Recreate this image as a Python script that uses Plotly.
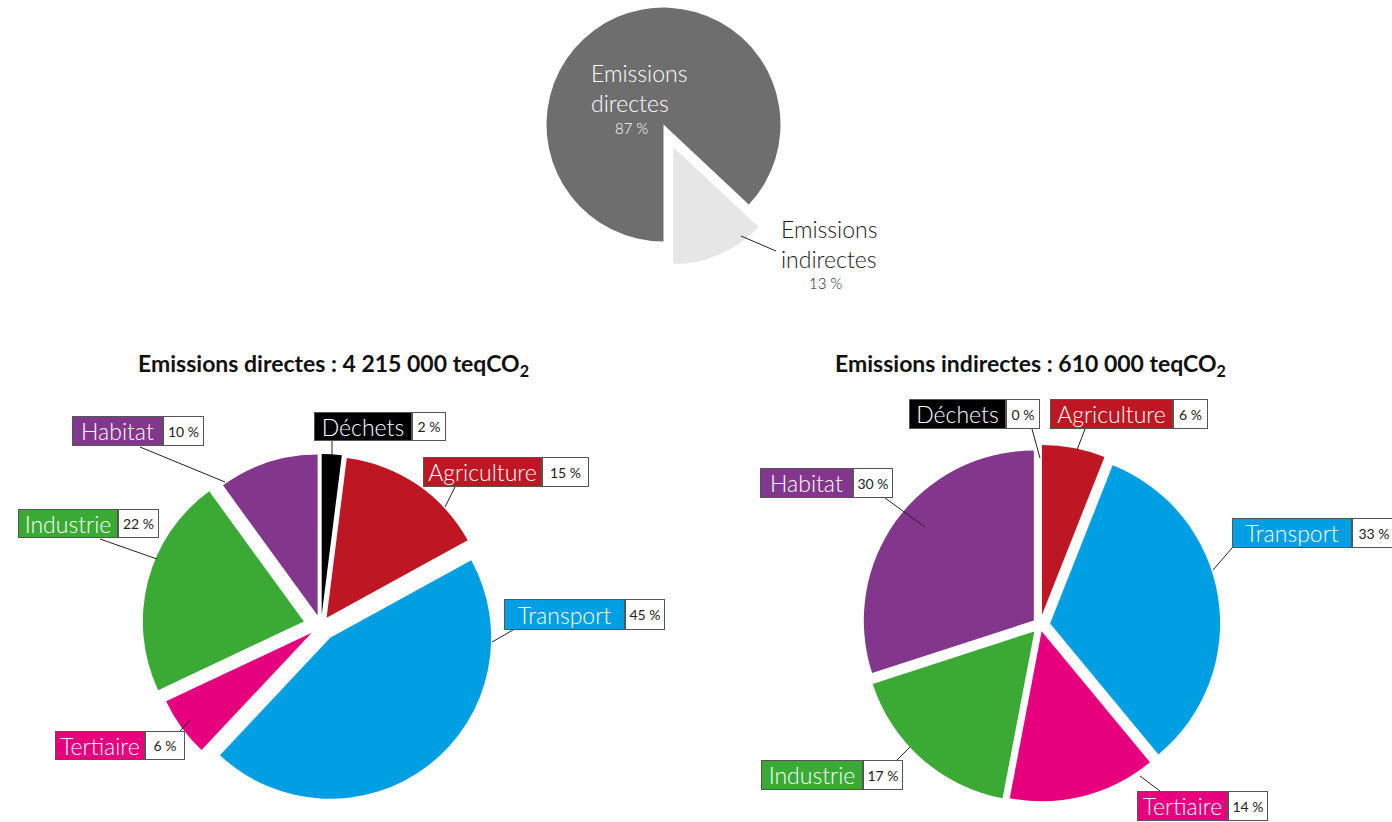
import plotly.graph_objects as go

W, H = 1392, 822

# ---------------- data ----------------
overview_labels = ["Emissions directes", "Emissions indirectes"]
overview_values = [87, 13]
overview_colors = ["#6e6e6e", "#e6e6e6"]

sectors = ["Déchets", "Agriculture", "Transport", "Tertiaire", "Industrie", "Habitat"]
sector_colors = ["#000000", "#be1622", "#009fe3", "#e6007e", "#3aaa35", "#82368c"]
direct_pct = [2, 15, 45, 6, 22, 10]
indirect_pct = [0, 6, 33, 14, 17, 30]
direct_total = "4 215 000"
indirect_total = "610 000"

FONT = "Lato"


def fx(x):
    return x / W


def fy(y):
    return 1 - y / H


def dom(cx, cy, half):
    return dict(x=[fx(cx - half), fx(cx + half)], y=[fy(cy + half), fy(cy - half)])


fig = go.Figure()

# ---- top overview pie (two layered traces, second one offset = "pulled" slice) ----
fig.add_trace(go.Pie(
    labels=overview_labels, values=overview_values, sort=False,
    direction="clockwise", rotation=180,
    marker=dict(colors=[overview_colors[0], "rgba(0,0,0,0)"], line=dict(width=0)),
    textinfo="none", hoverinfo="skip", showlegend=False,
    domain=dom(663.5, 124.5, 117),
))
fig.add_trace(go.Pie(
    labels=overview_labels, values=overview_values, sort=False,
    direction="clockwise", rotation=180,
    marker=dict(colors=["rgba(0,0,0,0)", overview_colors[1]], line=dict(width=0)),
    textinfo="none", hoverinfo="skip", showlegend=False,
    domain=dom(673.2, 147.0, 117),
))

# ---- bottom left: direct emissions ----
pull_left = [0.068, 0.062, 0.093, 0.071, 0.11, 0.068]
fig.add_trace(go.Pie(
    labels=sectors, values=direct_pct, sort=False,
    direction="clockwise", rotation=0, pull=pull_left,
    marker=dict(colors=sector_colors, line=dict(width=0)),
    textinfo="none", hoverinfo="skip", showlegend=False,
    domain=dom(321, 626, 161 * (1 + max(pull_left))),
))

# ---- bottom right: indirect emissions ----
pull_right = [0.0, 0.06, 0.06, 0.038, 0.05, 0.045]
fig.add_trace(go.Pie(
    labels=sectors, values=indirect_pct, sort=False,
    direction="clockwise", rotation=0, pull=pull_right,
    marker=dict(colors=sector_colors, line=dict(width=0)),
    textinfo="none", hoverinfo="skip", showlegend=False,
    domain=dom(1040, 625, 170 * (1 + max(pull_right))),
))

annotations = []
shapes = []


def text(x, y, s, size, color, xanchor="left", bold=False, weight=None):
    annotations.append(dict(
        x=fx(x), y=fy(y), xref="paper", yref="paper", text=s, showarrow=False,
        xanchor=xanchor, yanchor="middle", align="left",
        font=dict(family=FONT, size=size, color=color,
                  weight=(700 if bold else (weight or 400))),
    ))


def line(x0, y0, x1, y1):
    shapes.append(dict(type="line", xref="paper", yref="paper",
                       x0=fx(x0), y0=fy(y0), x1=fx(x1), y1=fy(y1),
                       line=dict(color="#222222", width=1)))


# top labels
text(589, 88, "<br>".join(overview_labels[0].split()), 23, "white", weight=300)
text(631, 128, f"{overview_values[0]} %", 15, "white", xanchor="center", weight=300)
text(779, 244, "<br>".join(overview_labels[1].split()), 23, "#1a1a1a", weight=300)
text(825, 283, f"{overview_values[1]} %", 15, "#1a1a1a", xanchor="center", weight=300)
line(741, 236, 776, 251)

# titles
text(333, 365, f"Emissions directes : {direct_total} teqCO<sub>2</sub>", 23, "#111111",
     xanchor="center", bold=True)
text(1030, 365, f"Emissions indirectes : {indirect_total} teqCO<sub>2</sub>", 23, "#111111",
     xanchor="center", bold=True)

# label boxes: (x_left, x_split, x_right, y_top, y_bottom, line)
left_boxes = {
    "Habitat": (72, 163, 204, 416, 446, (140, 447, 225, 482)),
    "Déchets": (314, 412, 446, 412, 441, (332, 441, 332, 455)),
    "Agriculture": (423, 542, 589, 457, 487, (455, 487, 445, 507)),
    "Industrie": (18, 118, 159, 509, 538, (100, 539, 157, 559)),
    "Transport": (504, 625, 665, 599, 630, (513, 630, 492, 642)),
    "Tertiaire": (55, 145, 185, 731, 760, (180, 731, 190, 720)),
}
right_boxes = {
    "Déchets": (909, 1006, 1040, 399, 429, (1032, 429, 1040, 458)),
    "Agriculture": (1050, 1173, 1208, 399, 429, (1085, 429, 1077, 450)),
    "Habitat": (760, 853, 893, 468, 498, (885, 498, 925, 527)),
    "Transport": (1232, 1352, 1396, 518, 548, (1232, 548, 1213, 570)),
    "Industrie": (761, 863, 903, 760, 790, (897, 760, 910, 747)),
    "Tertiaire": (1137, 1228, 1268, 791, 821, (1160, 791, 1140, 776)),
}


def label_box(name, color, pct, spec):
    xl, xs, xr, yt, yb, ln = spec
    line(*ln)
    h = yb - yt
    ym = (yt + yb) / 2
    annotations.append(dict(
        x=fx(xl), y=fy(ym), xref="paper", yref="paper", text=name, showarrow=False,
        xanchor="left", yanchor="middle", width=xs - xl - 2, height=h - 2,
        bgcolor=color, bordercolor="#555555", borderwidth=1, borderpad=0,
        align="center", valign="middle",
        font=dict(family=FONT, size=23, color="white", weight=300),
    ))
    annotations.append(dict(
        x=fx(xs), y=fy(ym), xref="paper", yref="paper", text=f"{pct} %", showarrow=False,
        xanchor="left", yanchor="middle", width=xr - xs - 2, height=h - 2,
        bgcolor="white", bordercolor="#555555", borderwidth=1, borderpad=0,
        align="center", valign="middle",
        font=dict(family=FONT, size=14, color="#222222"),
    ))


for name, color, pct in zip(sectors, sector_colors, direct_pct):
    label_box(name, color, pct, left_boxes[name])
for name, color, pct in zip(sectors, sector_colors, indirect_pct):
    label_box(name, color, pct, right_boxes[name])

fig.update_layout(
    width=W, height=H,
    margin=dict(l=0, r=0, t=0, b=0),
    paper_bgcolor="white", plot_bgcolor="white",
    annotations=annotations, shapes=shapes,
    font=dict(family=FONT),
)

fig.write_html("out.html")
